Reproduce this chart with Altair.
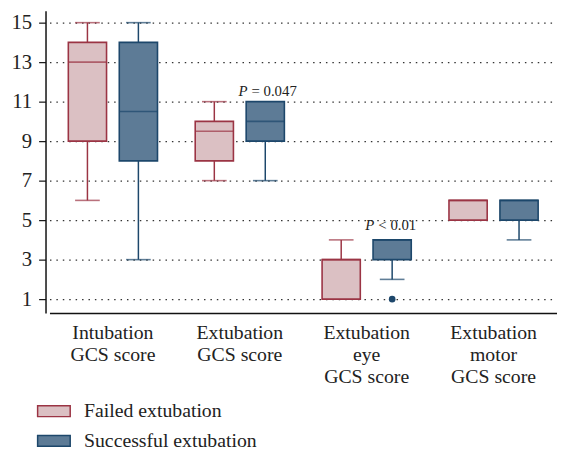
import altair as alt
import pandas as pd

categories = ["Intubation|GCS score", "Extubation|GCS score",
              "Extubation|eye|GCS score", "Extubation|motor|GCS score"]
groups = ["Failed extubation", "Successful extubation"]

# values per category: [failed, successful]
whisker_low = [[6, 3], [7, 7], [1, 2], [5, 4]]
q1 = [[9, 8], [8, 9], [1, 3], [5, 5]]
median = [[13, 10.5], [9.5, 10], [3, 4], [6, 6]]
q3 = [[14, 14], [10, 11], [3, 4], [6, 6]]
whisker_high = [[15, 15], [11, 11], [4, 4], [6, 6]]

outlier_cat = ["Extubation|eye|GCS score"]
outlier_group = ["Successful extubation"]
outlier_value = [1]

annot_cat = ["Extubation|GCS score", "Extubation|eye|GCS score"]
annot_group = ["Successful extubation", "Successful extubation"]
annot_y = [11.55, 4.75]
annot_rest = ["= 0.047", "< 0.01"]

fill_colors = ["#dbc0c3", "#5d7b96"]
stroke_colors = ["#9b3444", "#1d476b"]

rows = []
for ci, c in enumerate(categories):
    for gi, g in enumerate(groups):
        rows.append(dict(category=c, group=g, lo=whisker_low[ci][gi], q1=q1[ci][gi],
                         med=median[ci][gi], q3=q3[ci][gi], hi=whisker_high[ci][gi]))
df = pd.DataFrame(rows)

caps = []
for r in rows:
    if r["lo"] < r["q1"]:
        caps.append(dict(category=r["category"], group=r["group"], v=r["lo"]))
    if r["hi"] > r["q3"]:
        caps.append(dict(category=r["category"], group=r["group"], v=r["hi"]))
caps_df = pd.DataFrame(caps)

out_df = pd.DataFrame(dict(category=outlier_cat, group=outlier_group, v=outlier_value))
ann_df = pd.DataFrame(dict(category=annot_cat, group=annot_group, y=annot_y, rest=annot_rest))

FONT = "Liberation Serif"

x_enc = alt.X("category:N", sort=categories,
              scale=alt.Scale(domain=categories, range=[4, 518], paddingInner=0, paddingOuter=0),
              axis=alt.Axis(title=None, labelAngle=0, labelExpr="split(datum.label, '|')",
                            ticks=False, labelPadding=10, labelBaseline="top",
                            labelLineHeight=22, labelFontSize=20, labelFont=FONT,
                            labelColor="#222", domainColor="#111", domainWidth=1.5,
                            grid=False))
xo_enc = alt.XOffset("group:N", sort=groups,
                     scale=alt.Scale(domain=groups, paddingInner=0.25, paddingOuter=0.37))
y_scale = alt.Scale(domain=[0.3, 15.6], nice=False, zero=False)
y_axis = alt.Axis(title=None, values=[1, 3, 5, 7, 9, 11, 13, 15], tickSize=7,
                  tickColor="#111", tickWidth=1.2, labelPadding=7, labelFontSize=21,
                  labelFont=FONT, labelColor="#222", domainColor="#111", domainWidth=1.5,
                  grid=True, gridColor="#333", gridDash=[1.5, 5], gridWidth=1.2)
stroke_scale = alt.Scale(domain=groups, range=stroke_colors)
fill_scale = alt.Scale(domain=groups, range=fill_colors)

legend = alt.Legend(title=None, orient="none", legendX=-9, legendY=388,
                    symbolType="M-1,-0.333H1V0.333H-1Z", symbolSize=1089,
                    symbolStrokeWidth=1.5, labelFontSize=20, labelFont=FONT,
                    labelColor="#222", labelOffset=13, labelLimit=400, padding=0)

group_color = alt.condition(alt.datum.group == groups[0],
                            alt.value(stroke_colors[0]), alt.value(stroke_colors[1]))

base = alt.Chart(df)

whisk = base.mark_rule(strokeWidth=1.5).encode(
    x=x_enc, xOffset=xo_enc,
    y=alt.Y("lo:Q", scale=y_scale, axis=y_axis), y2="hi:Q",
    color=group_color,
)

boxes = base.mark_bar(strokeWidth=1.6).encode(
    x=x_enc, xOffset=xo_enc,
    y=alt.Y("q1:Q", scale=y_scale), y2="q3:Q",
    fill=alt.Fill("group:N", scale=fill_scale, legend=legend),
    stroke=alt.Stroke("group:N", scale=stroke_scale, legend=legend),
)

meds = base.mark_tick(size=39, thickness=1.6).encode(
    x=x_enc, xOffset=xo_enc,
    y=alt.Y("med:Q", scale=y_scale),
    color=group_color,
)

cap_marks = alt.Chart(caps_df).mark_tick(size=25, thickness=1.6).encode(
    x=x_enc, xOffset=xo_enc,
    y=alt.Y("v:Q", scale=y_scale),
    color=group_color,
)

outliers = alt.Chart(out_df).mark_point(filled=True, size=45, opacity=1).encode(
    x=x_enc, xOffset=xo_enc,
    y=alt.Y("v:Q", scale=y_scale),
    color=group_color,
)

ann_p = alt.Chart(ann_df).mark_text(text="P", font=FONT, fontStyle="italic", fontSize=15,
                                    align="right", dx=-18, color="#222").encode(
    x=x_enc, xOffset=xo_enc, y=alt.Y("y:Q", scale=y_scale))
ann_rest = alt.Chart(ann_df).mark_text(font=FONT, fontSize=15, align="left", dx=-14,
                                       color="#222").encode(
    x=x_enc, xOffset=xo_enc, y=alt.Y("y:Q", scale=y_scale), text="rest:N")

chart = alt.layer(whisk, boxes, meds, cap_marks, outliers, ann_p, ann_rest).properties(
    width=518, height=306,
    padding={"left": 3, "top": 0, "right": 0, "bottom": 0},
).configure(font=FONT).configure_view(stroke=None).configure_legend(
    labelFont=FONT, labelFontSize=20, labelLimit=400
)

chart.save("out.html", embed_options={"renderer": "svg", "actions": False})
